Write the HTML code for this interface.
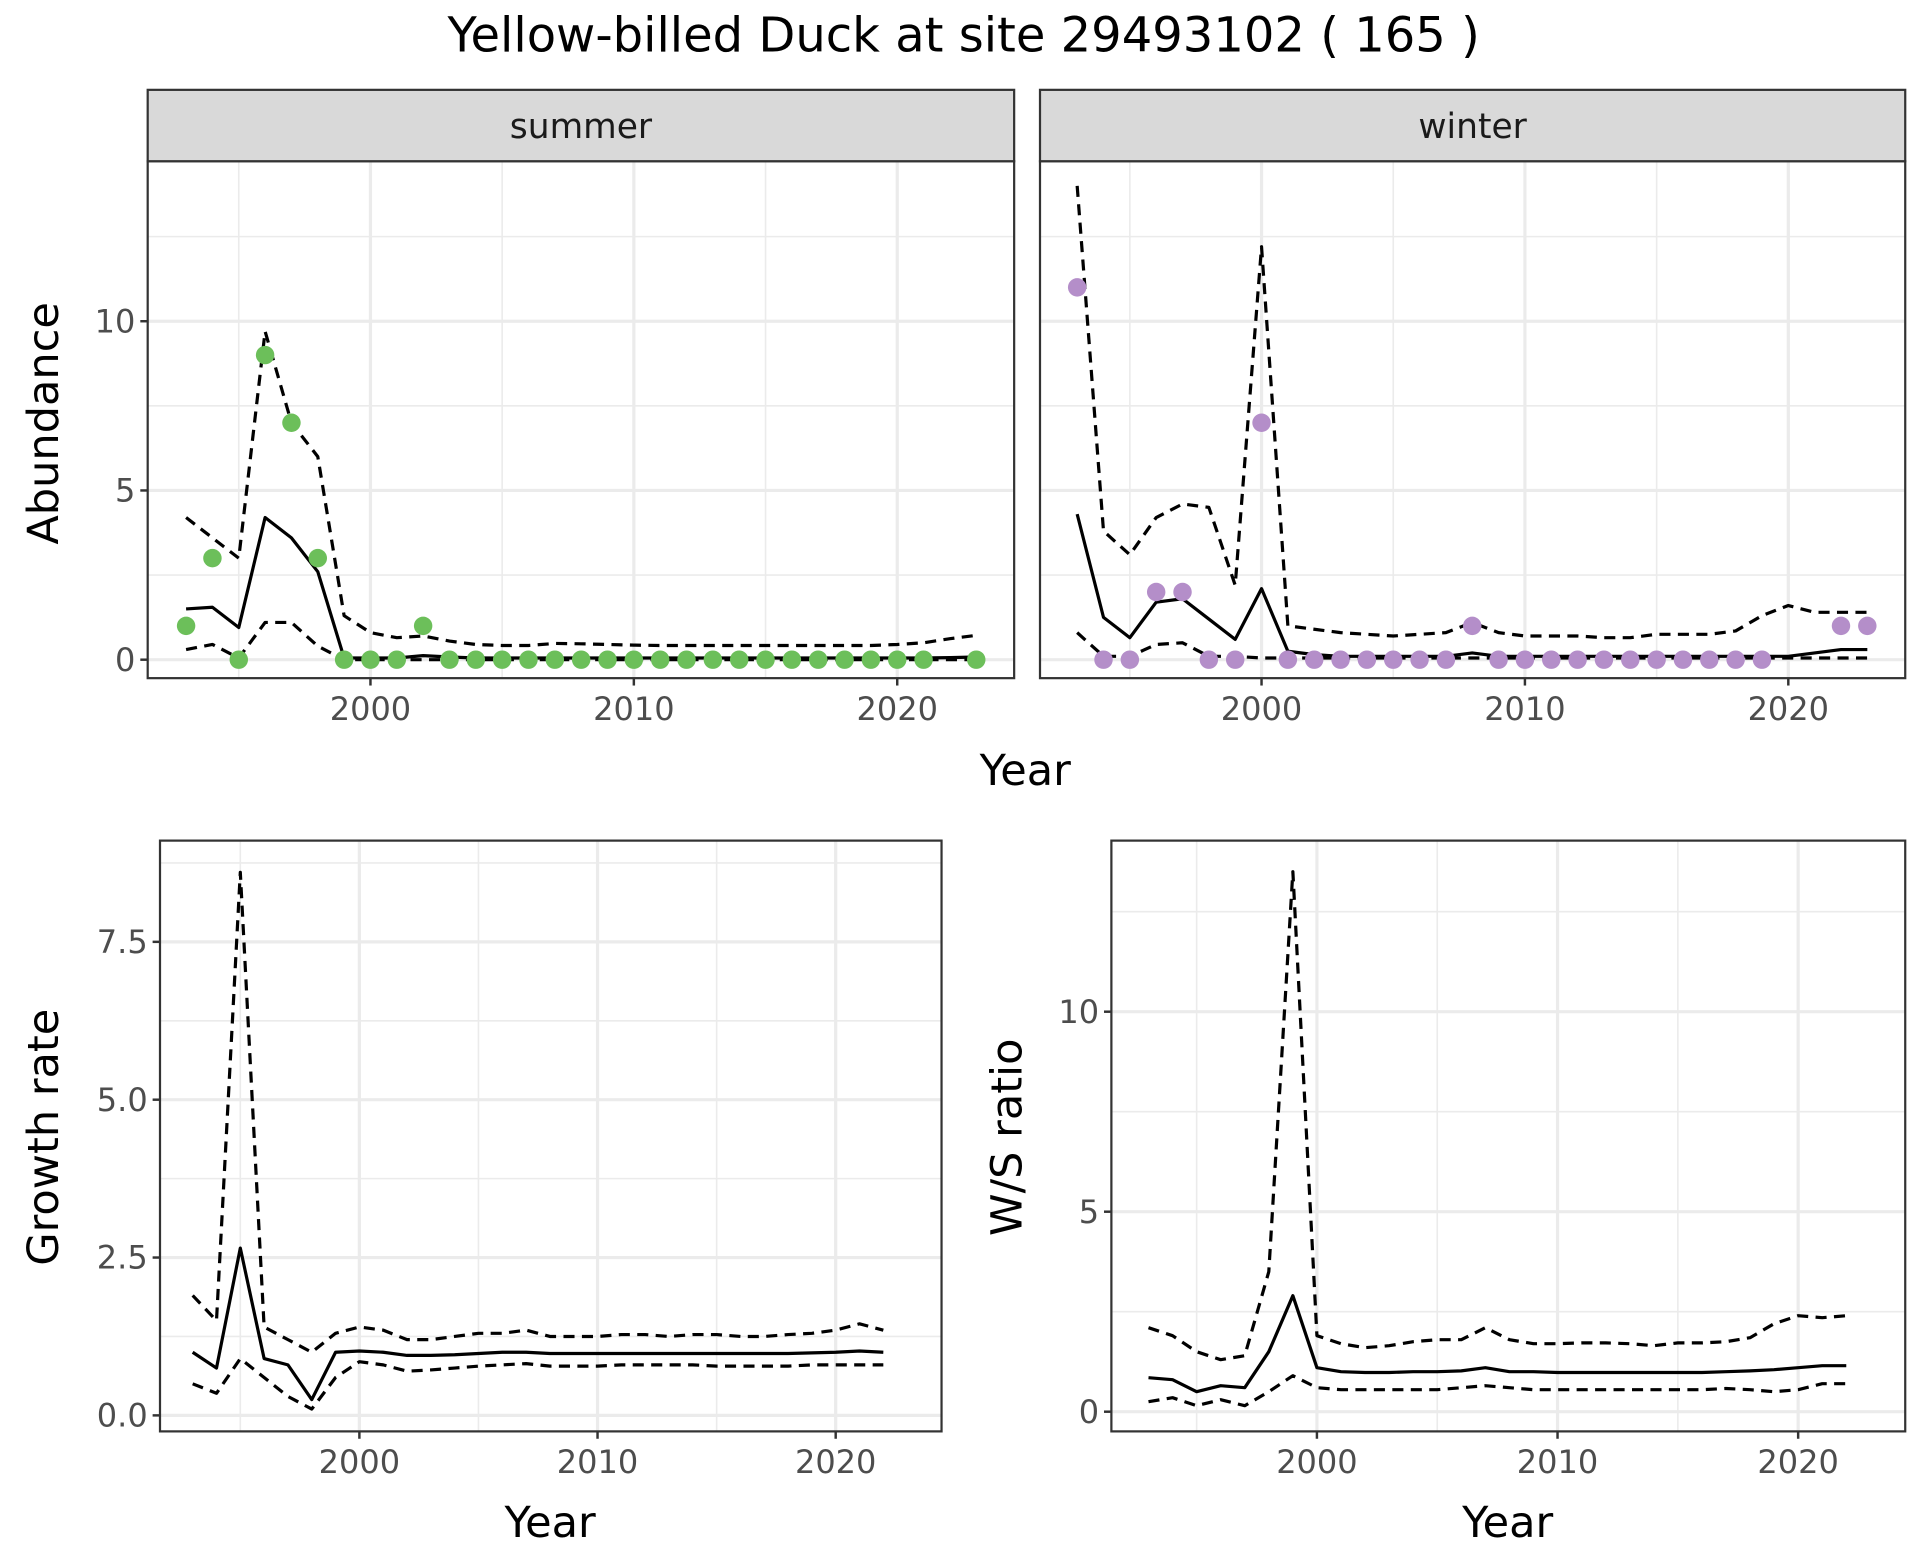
<!DOCTYPE html>
<html><head><meta charset="utf-8"><style>
html,body{margin:0;padding:0;background:#fff;}
svg{display:block;font-family:"DejaVu Sans","Liberation Sans",sans-serif;}
</style></head><body>
<svg id="chart" width="1920" height="1560" viewBox="0 0 1560 1267.5" xmlns="http://www.w3.org/2000/svg">
<rect width="1560" height="1267.5" fill="#fff"/>
<text x="783" y="42" font-size="39" text-anchor="middle" fill="#000">Yellow-billed Duck at site 29493102 ( 165 )</text>
</svg>
<script>
const years = [1993,1994,1995,1996,1997,1998,1999,2000,2001,2002,2003,2004,2005,2006,2007,2008,2009,2010,2011,2012,2013,2014,2015,2016,2017,2018,2019,2020,2021,2022,2023];
const summerObs = [1,3,0,9,7,3,0,0,0,1,0,0,0,0,0,0,0,0,0,0,0,0,0,0,0,0,0,0,0,null,0];
const summerMean = [1.5,1.55,0.95,4.2,3.6,2.6,0.05,0.05,0.05,0.12,0.08,0.05,0.05,0.05,0.05,0.05,0.05,0.05,0.05,0.05,0.05,0.05,0.05,0.05,0.05,0.05,0.05,0.05,0.05,0.06,0.08];
const summerUpper = [4.2,3.6,3.0,9.7,7.0,6.0,1.3,0.8,0.65,0.7,0.55,0.45,0.42,0.42,0.48,0.47,0.45,0.43,0.42,0.42,0.42,0.42,0.42,0.42,0.42,0.42,0.42,0.45,0.5,0.62,0.72];
const summerLower = [0.3,0.45,0.05,1.1,1.1,0.4,0,0,0,0,0,0,0,0,0,0,0,0,0,0,0,0,0,0,0,0,0,0,0,0,0];
const winterObs = [11,0,0,2,2,0,0,7,0,0,0,0,0,0,0,1,0,0,0,0,0,0,0,0,0,0,0,null,null,1,1];
const winterMean = [4.3,1.25,0.65,1.7,1.8,1.2,0.6,2.1,0.25,0.15,0.1,0.1,0.1,0.1,0.1,0.2,0.1,0.1,0.1,0.1,0.1,0.1,0.1,0.1,0.1,0.1,0.1,0.1,0.2,0.3,0.3];
const winterUpper = [14,3.8,3.1,4.2,4.6,4.5,2.2,12.2,1.0,0.9,0.8,0.75,0.7,0.75,0.8,1.1,0.8,0.7,0.7,0.7,0.65,0.65,0.75,0.75,0.75,0.85,1.3,1.6,1.4,1.4,1.4];
const winterLower = [0.8,0.1,0.1,0.45,0.5,0.1,0.1,0.05,0.05,0.05,0.05,0.05,0.05,0.05,0.05,0.05,0.05,0.05,0.05,0.05,0.05,0.05,0.05,0.05,0.05,0.05,0.05,0.05,0.05,0.05,0.05];
const yearsB = years.slice(0,30);
const growthMean = [1.0,0.75,2.65,0.9,0.8,0.25,1.0,1.02,1.0,0.95,0.95,0.96,0.98,1.0,1.0,0.98,0.98,0.98,0.98,0.98,0.98,0.98,0.98,0.98,0.98,0.98,0.99,1.0,1.02,1.0];
const growthUpper = [1.9,1.5,8.6,1.4,1.2,1.0,1.3,1.4,1.35,1.2,1.2,1.25,1.3,1.3,1.35,1.25,1.25,1.25,1.28,1.28,1.25,1.28,1.28,1.25,1.25,1.28,1.3,1.35,1.45,1.35];
const growthLower = [0.5,0.35,0.9,0.6,0.3,0.1,0.6,0.85,0.8,0.7,0.72,0.75,0.78,0.8,0.82,0.78,0.78,0.78,0.8,0.8,0.8,0.8,0.78,0.78,0.78,0.78,0.8,0.8,0.8,0.8];
const wsMean = [0.85,0.8,0.5,0.65,0.6,1.5,2.9,1.1,1.0,0.98,0.98,1.0,1.0,1.02,1.1,1.0,1.0,0.98,0.98,0.98,0.98,0.98,0.98,0.98,1.0,1.02,1.05,1.1,1.15,1.15];
const wsUpper = [2.1,1.9,1.5,1.3,1.4,3.5,13.5,1.9,1.7,1.6,1.65,1.75,1.8,1.8,2.1,1.8,1.7,1.7,1.72,1.72,1.7,1.65,1.72,1.72,1.75,1.85,2.2,2.4,2.35,2.4];
const wsLower = [0.25,0.35,0.15,0.3,0.15,0.5,0.9,0.6,0.55,0.55,0.55,0.55,0.55,0.6,0.65,0.6,0.55,0.55,0.55,0.55,0.55,0.55,0.55,0.55,0.58,0.55,0.5,0.55,0.7,0.7];
const abTicks = [0,5,10];
const abMinor = [2.5,7.5,12.5];
const grTicks = [0,2.5,5,7.5];
const grTickLabels = ["0.0","2.5","5.0","7.5"];
const grMinor = [1.25,3.75,6.25,8.75];
const wsTicks = [0,5,10];
const wsMinor = [2.5,7.5,12.5];
const xTicks = [2000,2010,2020];
const xMinor = [1995,2005,2015];

const NS = "http://www.w3.org/2000/svg";
const svg = document.getElementById('chart');
function mk(tag, attrs, parent){
  const e = document.createElementNS(NS, tag);
  for (const k in attrs) e.setAttribute(k, attrs[k]);
  (parent||svg).appendChild(e); return e;
}
function panel(p){
  const g = mk('g', {});
  
  
  p.yMinor.forEach(v=>{ const y=p.ys(v); if(y>p.y0&&y<p.y1){ const l=mk('line',{x1:p.x0,x2:p.x1,y1:y,y2:y,stroke:'#ebebeb','stroke-width':1.3},g);  }});
  xMinor.forEach(v=>{ const x=p.xs(v); const l=mk('line',{x1:x,x2:x,y1:p.y0,y2:p.y1,stroke:'#ebebeb','stroke-width':1.3},g);  });
  p.yTicks.forEach((v,i)=>{ const y=p.ys(v);
    const l=mk('line',{x1:p.x0,x2:p.x1,y1:y,y2:y,stroke:'#ebebeb','stroke-width':2.6},g);  
    if(p.showY){ mk('line',{x1:p.x0-6,x2:p.x0,y1:y,y2:y,stroke:'#333','stroke-width':2},g);
      const t=mk('text',{x:p.x0-10,y:y+9,'font-size':26,'text-anchor':'end',fill:'#4d4d4d'},g); t.textContent=p.yLabels[i];
       }
  });
  xTicks.forEach(v=>{ const x=p.xs(v);
    const l=mk('line',{x1:x,x2:x,y1:p.y0,y2:p.y1,stroke:'#ebebeb','stroke-width':2.6},g);  
    mk('line',{x1:x,x2:x,y1:p.y1,y2:p.y1+6,stroke:'#333','stroke-width':2},g);
    const t=mk('text',{x:x,y:p.y1+34,'font-size':26,'text-anchor':'middle',fill:'#4d4d4d'},g); t.textContent=v;
     
  });
  function line(xsArr, arr, dash, nm){
    let d=''; arr.forEach((v,i)=>{ if(v==null) return; d+=(d?'L':'M')+p.xs(xsArr[i]).toFixed(2)+','+p.ys(v).toFixed(2);});
    const a={d:d,fill:'none',stroke:'#000','stroke-width':2.6,'stroke-linejoin':'round'}; if(dash) a['stroke-dasharray']='9,6';
    const e=mk('path',a,g);  
  }
  p.series.forEach(s=>line(p.xv, s[0], s[1], s[2]));
  if(p.obs){ p.obs.forEach((v,i)=>{ if(v==null) return;
    const c=mk('circle',{cx:p.xs(p.xv[i]),cy:p.ys(v),r:7.5,fill:p.color},g);
     });}
  const b=mk('rect',{x:p.x0,y:p.y0,width:p.x1-p.x0,height:p.y1-p.y0,fill:'none',stroke:'#333','stroke-width':1.8},g);
   
  if(p.strip){
    const r=mk('rect',{x:p.x0,y:73,width:p.x1-p.x0,height:p.y0-73,fill:'#d9d9d9',stroke:'#333','stroke-width':1.8},g);
     
    const t=mk('text',{x:(p.x0+p.x1)/2,y:112,'font-size':28,'text-anchor':'middle',fill:'#1a1a1a'},g); t.textContent=p.strip;
     
  }
}
const abY = v=>536-v*27.5;
panel({name:'summer-panel',x0:120,x1:824,y0:131,y1:551,xs:v=>301+(v-2000)*21.4,ys:abY,yTicks:abTicks,yLabels:abTicks.map(String),yMinor:abMinor,showY:true,xv:years,
  series:[[summerUpper,true,'summer-upper-ci'],[summerLower,true,'summer-lower-ci'],[summerMean,false,'summer-mean-line']],obs:summerObs,color:'#6cbf5a',strip:'summer'});
panel({name:'winter-panel',x0:845,x1:1548,y0:131,y1:551,xs:v=>1025+(v-2000)*21.4,ys:abY,yTicks:abTicks,yLabels:abTicks.map(String),yMinor:abMinor,showY:false,xv:years,
  series:[[winterUpper,true,'winter-upper-ci'],[winterLower,true,'winter-lower-ci'],[winterMean,false,'winter-mean-line']],obs:winterObs,color:'#b48ec9',strip:'winter'});
panel({name:'growth-rate-panel',x0:130,x1:765,y0:683,y1:1163,xs:v=>292+(v-2000)*19.35,ys:v=>1150-v*51.3,yTicks:grTicks,yLabels:grTickLabels,yMinor:grMinor,showY:true,xv:yearsB,
  series:[[growthUpper,true,'growth-upper-ci'],[growthLower,true,'growth-lower-ci'],[growthMean,false,'growth-mean-line']]});
panel({name:'ws-ratio-panel',x0:903,x1:1548,y0:683,y1:1163,xs:v=>1070+(v-2000)*19.55,ys:v=>1147-v*32.5,yTicks:wsTicks,yLabels:wsTicks.map(String),yMinor:wsMinor,showY:true,xv:yearsB,
  series:[[wsUpper,true,'ws-upper-ci'],[wsLower,true,'ws-lower-ci'],[wsMean,false,'ws-mean-line']]});
function label(txt,x,y,rot,nm){
  const t=mk('text',{x:x,y:y,'font-size':35,'text-anchor':'middle',fill:'#000'});
  if(rot) t.setAttribute('transform','rotate(-90 '+x+' '+y+')');
  t.textContent=txt;
   
}
label('Year',833,638,false,'x-axis-title-top');
label('Abundance',47,344,true,'y-axis-title-abundance');
label('Growth rate',47,924,true,'y-axis-title-growth');
label('W/S ratio',830,924,true,'y-axis-title-ws');
label('Year',447,1249,false,'x-axis-title-growth');
label('Year',1225,1249,false,'x-axis-title-ws');
</script>
</body></html>
